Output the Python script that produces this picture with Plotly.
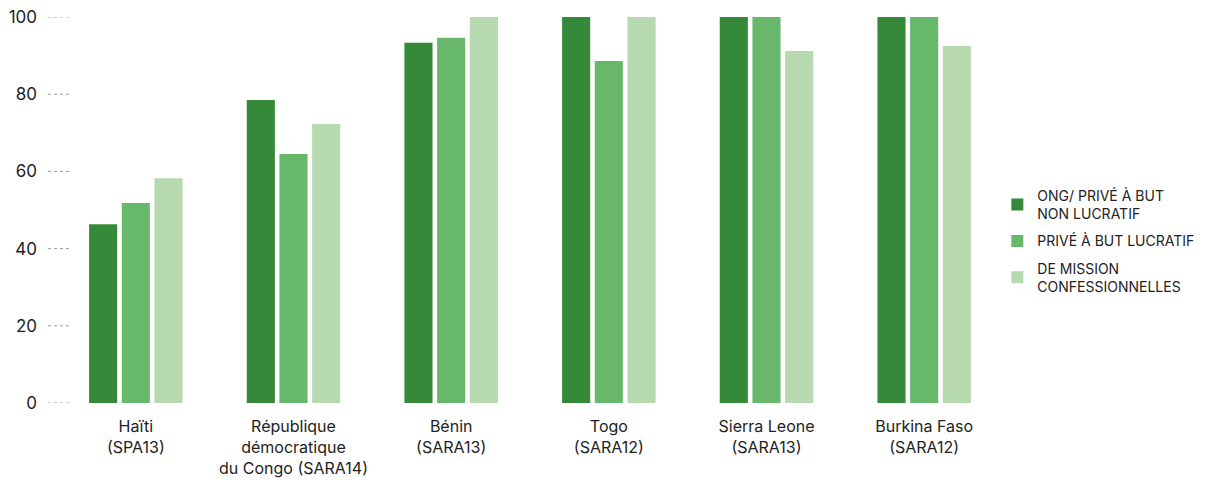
import plotly.graph_objects as go

categories = ["Haïti<br>(SPA13)", "République<br>démocratique<br>du Congo (SARA14)", "Bénin<br>(SARA13)",
              "Togo<br>(SARA12)", "Sierra Leone<br>(SARA13)", "Burkina Faso<br>(SARA12)"]
series_names = ["ONG/ PRIVÉ À BUT<br>NON LUCRATIF", "PRIVÉ À BUT LUCRATIF", "DE MISSION<br>CONFESSIONNELLES"]
ong = [46.3, 78.5, 93.3, 100, 100, 100]
prive = [51.8, 64.5, 94.6, 88.6, 100, 100]
mission = [58.2, 72.3, 100, 100, 91.2, 92.5]
colors = ["#37893A", "#68B86C", "#B7D9AF"]
y_ticks = [0, 20, 40, 60, 80, 100]

fig = go.Figure()
for i, (name, vals, col) in enumerate(zip(series_names, [ong, prive, mission], colors)):
    fig.add_trace(go.Bar(x=categories, y=vals, name=name, legendgroup=f"g{i}",
                         marker=dict(color=col, line=dict(width=0))))

# page body has an 8px default margin, so the figure is sized/offset to compensate
W, H = 1221, 475
ml, mr, mt, mb = 49, 226, 9, 80
pw = W - ml - mr
for t in y_ticks:
    fig.add_shape(type="line", xref="paper", yref="y", x0=(40 - ml) / pw, x1=(64 - ml) / pw, y0=t, y1=t,
                  line=dict(color="#9a9a9a", width=1, dash="dot"), layer="below")

fig.update_layout(
    width=W, height=H,
    margin=dict(l=ml, r=mr, t=mt, b=mb, autoexpand=False),
    plot_bgcolor="white", paper_bgcolor="white",
    barmode="group", bargap=0.378, bargroupgap=0.14,
    font=dict(family="Inter, Lato, sans-serif", color="#222222", size=16),
    xaxis=dict(showgrid=False, showline=False, zeroline=False, ticks="", tickfont=dict(size=16),
               automargin=False, ticklabelstandoff=12, ticklabeloverflow="allow"),
    yaxis=dict(range=[0, 100], tickvals=y_ticks, showgrid=False, zeroline=False, showline=False,
               ticks="", tickfont=dict(size=17), ticklabelstandoff=19, automargin=False,
               ticklabeloverflow="allow"),
    legend=dict(x=0.994, xanchor="left", y=0.42, yanchor="middle",
                font=dict(size=14, color="#222222", family="Inter, sans-serif"),
                traceorder="grouped", itemwidth=30, tracegroupgap=6),
    showlegend=True,
)
fig.write_html("out.html")
